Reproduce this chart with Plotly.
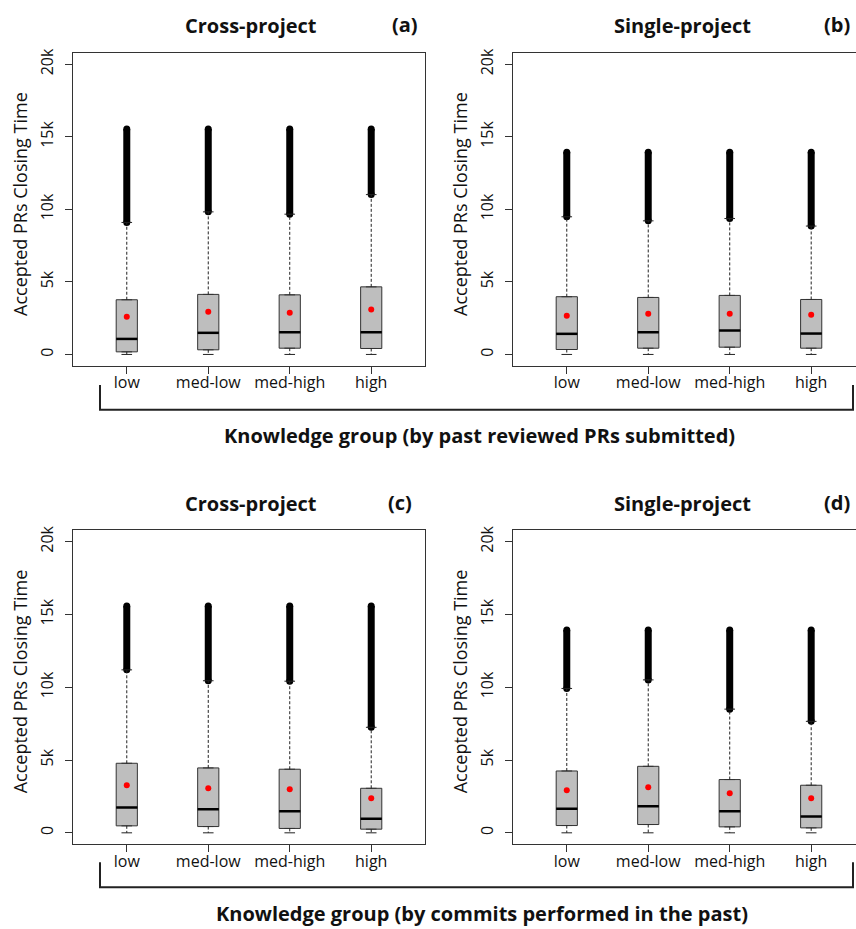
import plotly.graph_objects as go

groups = ["low", "med-low", "med-high", "high"]
positions = [1, 2, 3, 4]
y_tickvals = [0, 5000, 10000, 15000, 20000]
y_ticktext = ["0", "5k", "10k", "15k", "20k"]

# Panel (a): Cross-project, by past reviewed PRs submitted
a_min = [0, 0, 0, 0]
a_q1 = [180, 320, 430, 410]
a_med = [1070, 1490, 1530, 1530]
a_q3 = [3770, 4140, 4110, 4660]
a_whi = [9100, 9830, 9670, 11020]
a_max = [15540, 15540, 15540, 15540]
a_mean = [2600, 2950, 2880, 3090]

# Panel (b): Single-project, by past reviewed PRs submitted
b_min = [0, 0, 0, 0]
b_q1 = [340, 430, 500, 430]
b_med = [1420, 1530, 1650, 1440]
b_q3 = [3980, 3930, 4070, 3790]
b_whi = [9490, 9210, 9370, 8850]
b_max = [13940, 13940, 13940, 13940]
b_mean = [2670, 2810, 2810, 2740]

# Panel (c): Cross-project, by commits performed in the past
c_min = [0, 0, 0, 0]
c_q1 = [480, 430, 300, 250]
c_med = [1740, 1620, 1490, 960]
c_q3 = [4780, 4460, 4370, 3060]
c_whi = [11200, 10450, 10420, 7250]
c_max = [15590, 15590, 15590, 15590]
c_mean = [3270, 3060, 2990, 2380]

# Panel (d): Single-project, by commits performed in the past
d_min = [0, 0, 0, 0]
d_q1 = [500, 570, 410, 340]
d_med = [1650, 1830, 1490, 1120]
d_q3 = [4250, 4570, 3660, 3270]
d_whi = [9920, 10510, 8500, 7660]
d_max = [13940, 13940, 13940, 13940]
d_mean = [2930, 3130, 2720, 2380]

panels = [
    dict(name="a", mn=a_min, q1=a_q1, med=a_med, q3=a_q3, whi=a_whi, mx=a_max, mean=a_mean),
    dict(name="b", mn=b_min, q1=b_q1, med=b_med, q3=b_q3, whi=b_whi, mx=b_max, mean=b_mean),
    dict(name="c", mn=c_min, q1=c_q1, med=c_med, q3=c_q3, whi=c_whi, mx=c_max, mean=c_mean),
    dict(name="d", mn=d_min, q1=d_q1, med=d_med, q3=d_q3, whi=d_whi, mx=d_max, mean=d_mean),
]

W, H = 856, 929
FONT = "Open Sans"
BOXW = 0.26
CAPW = 0.13

def px_x(v):
    return v / W

def px_y(v):
    return 1 - v / H

# layout geometry (pixels)
geo = {
    "a": dict(x0=73, x1=425, y0=48, y1=363, xr=[0.34, 4.66], mirror_y=True),
    "b": dict(x0=513, x1=856, y0=48, y1=363, xr=[0.34, 4.55], mirror_y=False),
    "c": dict(x0=73, x1=425, y0=528, y1=844, xr=[0.34, 4.66], mirror_y=True),
    "d": dict(x0=513, x1=856, y0=528, y1=844, xr=[0.34, 4.55], mirror_y=False),
}

fig = go.Figure()
layout = {}
for i, p in enumerate(panels):
    k = "" if i == 0 else str(i + 1)
    xa, ya = "x" + k, "y" + k
    g = geo[p["name"]]

    # outliers (dense band)
    ox, oy = [], []
    for j, pos in enumerate(positions):
        ox += [pos, pos, None]
        oy += [p["whi"][j], p["mx"][j], None]
    fig.add_trace(go.Scatter(x=ox, y=oy, mode="lines+markers", xaxis=xa, yaxis=ya,
                             line=dict(color="black", width=7),
                             marker=dict(color="black", size=7), showlegend=False,
                             hoverinfo="skip"))
    # dashed whiskers
    wx, wy = [], []
    for j, pos in enumerate(positions):
        wx += [pos, pos, None, pos, pos, None]
        wy += [p["q3"][j], p["whi"][j], None, p["q1"][j], p["mn"][j], None]
    fig.add_trace(go.Scatter(x=wx, y=wy, mode="lines", xaxis=xa, yaxis=ya,
                             line=dict(color="#222222", width=1, dash="3px,2px"),
                             showlegend=False, hoverinfo="skip"))
    # whisker caps
    cx, cy = [], []
    for j, pos in enumerate(positions):
        for v in (p["whi"][j], p["mn"][j]):
            cx += [pos - CAPW / 2, pos + CAPW / 2, None]
            cy += [v, v, None]
    fig.add_trace(go.Scatter(x=cx, y=cy, mode="lines", xaxis=xa, yaxis=ya,
                             line=dict(color="#222222", width=1),
                             showlegend=False, hoverinfo="skip"))
    # boxes
    fig.add_trace(go.Box(x=positions, q1=p["q1"], median=p["med"], q3=p["q3"],
                         lowerfence=p["q1"], upperfence=p["q3"], width=BOXW,
                         fillcolor="#BEBEBE", line=dict(color="#333333", width=1),
                         boxpoints=False, xaxis=xa, yaxis=ya, showlegend=False,
                         hoverinfo="skip"))
    # medians (thick)
    mx_, my_ = [], []
    for j, pos in enumerate(positions):
        mx_ += [pos - BOXW / 2, pos + BOXW / 2, None]
        my_ += [p["med"][j], p["med"][j], None]
    fig.add_trace(go.Scatter(x=mx_, y=my_, mode="lines", xaxis=xa, yaxis=ya,
                             line=dict(color="black", width=2.5),
                             showlegend=False, hoverinfo="skip"))
    # means
    fig.add_trace(go.Scatter(x=positions, y=p["mean"], mode="markers", xaxis=xa, yaxis=ya,
                             marker=dict(color="#FF0000", size=6),
                             showlegend=False, hoverinfo="skip"))

    layout["xaxis" + k] = dict(
        domain=[px_x(g["x0"]), px_x(g["x1"])], anchor=ya, range=g["xr"],
        tickvals=positions, ticktext=groups, ticks="outside", ticklen=7,
        tickcolor="#333333", showline=True, mirror=True, linecolor="#333333",
        linewidth=1, showgrid=False, zeroline=False, ticklabelstandoff=-5,
        tickfont=dict(family=FONT, size=16, color="#111111"))
    layout["yaxis" + k] = dict(
        domain=[px_y(g["y1"]), px_y(g["y0"])], anchor=xa, range=[-800, 20800],
        tickvals=y_tickvals, ticktext=y_ticktext, tickangle=-90, ticks="outside",
        ticklen=7, tickcolor="#333333", showline=True, mirror=g["mirror_y"],
        linecolor="#333333", linewidth=1, showgrid=False, zeroline=False,
        ticklabelstandoff=6,
        tickfont=dict(family=FONT, size=16, color="#111111"))

annotations = []
def ann(text, x, y, size, bold=False, angle=0):
    annotations.append(dict(
        text=("<b>%s</b>" % text) if bold else text, x=px_x(x), y=px_y(y),
        xref="paper", yref="paper", showarrow=False, xanchor="center",
        yanchor="middle", textangle=angle,
        font=dict(family=FONT, size=size, color="#111111")))

ann("Cross-project", 251, 21, 20, True)
ann("(a)", 405, 20, 20, True)
ann("Single-project", 682, 21, 20, True)
ann("(b)", 837, 20, 20, True)
ann("Cross-project", 251, 501, 20, True)
ann("(c)", 400, 500, 20, True)
ann("Single-project", 682, 501, 20, True)
ann("(d)", 837, 500, 20, True)
for yc in (200, 680):
    ann("Accepted PRs Closing Time", 20, yc, 18, False, -90)
    ann("Accepted PRs Closing Time", 460, yc, 18, False, -90)
ann("Knowledge group (by past reviewed PRs submitted)", 480, 433, 20, True)
ann("Knowledge group (by commits performed in the past)", 482, 913, 20, True)

shapes = []
for yb in (407, 887):
    ytop = yb - 25
    shapes.append(dict(type="path", xref="paper", yref="paper",
                       path="M %f %f L %f %f L %f %f L %f %f" % (
                           px_x(100), px_y(ytop), px_x(100), px_y(yb),
                           px_x(853), px_y(yb), px_x(853), px_y(ytop)),
                       line=dict(color="#222222", width=2)))

fig.update_layout(width=W, height=H, margin=dict(l=0, r=0, t=0, b=0),
                  paper_bgcolor="white", plot_bgcolor="white",
                  annotations=annotations, shapes=shapes, showlegend=False,
                  font=dict(family=FONT), **layout)
fig.write_html("out.html", config={"displayModeBar": False},
               post_script="document.body.style.margin='0';"
                           "document.body.style.overflow='hidden';"
                           "document.documentElement.style.overflow='hidden';")
